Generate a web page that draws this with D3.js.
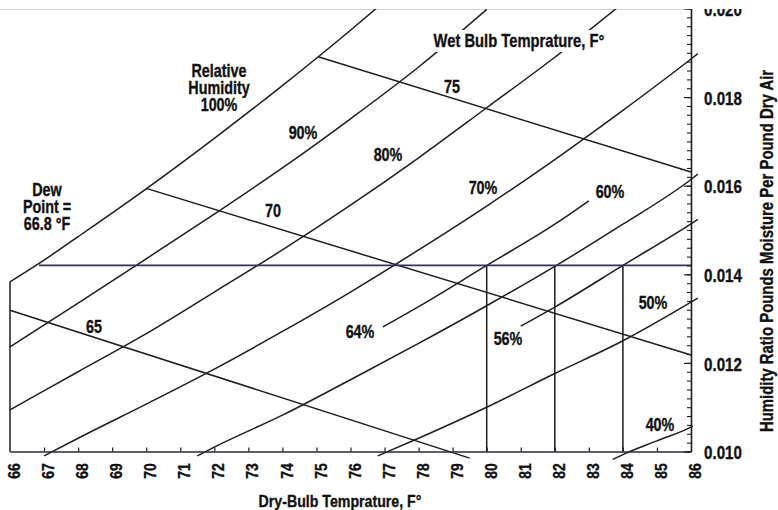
<!DOCTYPE html>
<html>
<head>
<meta charset="utf-8">
<script src="https://cdn.jsdelivr.net/npm/d3@7"></script>
<style>
  html, body { margin: 0; padding: 0; background: #fff; }
  svg { display: block; }
  text { font-family: "Liberation Sans", Arial, sans-serif; font-weight: bold; fill: #111; stroke: #111; stroke-width: 0.35px; }
</style>
</head>
<body>
<svg id="chart" width="778" height="510"></svg>
<script>
// ---------------- DATA ----------------
// axis ticks
const dryBulbTicks = [66,67,68,69,70,71,72,73,74,75,76,77,78,79,80,81,82,83,84,85,86];
const humidityTicks = [0.010, 0.012, 0.014, 0.016, 0.018, 0.020];
const humidityTickLabels = ["0.010", "0.012", "0.014", "0.016", "0.018", "0.020"];

// relative humidity curves: dry-bulb (°F) and humidity ratio (lb/lb)
const rh100T = [66, 67, 68, 70, 72, 74, 76, 77];
const rh100W = [0.01383, 0.01432, 0.01485, 0.01593, 0.01707, 0.01826, 0.01951, 0.02016];
const rh90T  = [66, 68, 70, 72, 74, 76, 78, 80];
const rh90W  = [0.01236, 0.01335, 0.01435, 0.01536, 0.01640, 0.01751, 0.01868, 0.01998];
const rh80T  = [66, 68, 70, 72, 74, 76, 78, 80, 82, 84];
const rh80W  = [0.01094, 0.01180, 0.01266, 0.01360, 0.01455, 0.01556, 0.01663, 0.01776, 0.01890, 0.02012];
const rh70T  = [67, 68, 70, 72, 74, 76, 78, 80, 82, 84, 86, 86.2];
const rh70W  = [0.00990, 0.01030, 0.01107, 0.01186, 0.01271, 0.01360, 0.01455, 0.01554, 0.01659, 0.01770, 0.01886, 0.01898];
const rh60T  = [71.5, 72, 74, 76, 78, 80, 82, 84, 86, 86.2];
const rh60W  = [0.00990, 0.01010, 0.01082, 0.01162, 0.01244, 0.01329, 0.01418, 0.01513, 0.01614, 0.01626];
const rh50T  = [76.8, 78, 80, 82, 84, 86, 86.2];
const rh50W  = [0.00990, 0.01030, 0.01100, 0.01176, 0.01250, 0.01337, 0.01346];
const rh40T  = [83.7, 84, 85, 86, 86.05];
const rh40W  = [0.00982, 0.00993, 0.01024, 0.01055, 0.01057];
// partial curves for the worked example
const rh64T  = [76.95, 78, 80, 82, 83.0];
const rh64W  = [0.01281, 0.01327, 0.01420, 0.01513, 0.01566];
const rh56T  = [81.0, 82, 84, 86, 86.2];
const rh56W  = [0.01283, 0.01326, 0.01420, 0.01514, 0.01524];

// wet-bulb lines (straight): start and end points
const wetBulbLabels = ["65", "70", "75"];
const wbStartT = [66.0, 70.0, 75.05];
const wbStartW = [0.01319, 0.01594, 0.01891];
const wbEndT   = [79.5, 86.0, 86.0];
const wbEndW   = [0.00985, 0.01218, 0.01631];

// dew point line and dry-bulb markers
const dewPointT = 66.85;
const dewPointW = 0.0142;
const markerT = [80, 82, 84];

// ---------------- CHART ----------------
const svg = d3.select("#chart");
const x = d3.scaleLinear().domain([66, 86]).range([10, 691]);
const y = d3.scaleLinear().domain([0.010, 0.020]).range([451.5, 8.5]);

svg.append("defs").append("clipPath").attr("id", "crop")
  .append("rect").attr("x", 0).attr("y", 9).attr("width", 778).attr("height", 501);

const root = svg.append("g").attr("clip-path", "url(#crop)");
const ink = "#1d1d1d";

// faint top edge
root.append("line").attr("x1", 0).attr("x2", x(86)).attr("y1", 9.5).attr("y2", 9.5)
  .attr("stroke", "#d4d4d4").attr("stroke-width", 1);

const line = d3.line().x(d => x(d[0])).y(d => y(d[1])).curve(d3.curveMonotoneX);

const curves = [
  [rh100T, rh100W], [rh90T, rh90W], [rh80T, rh80W], [rh70T, rh70W],
  [rh60T, rh60W], [rh50T, rh50W], [rh40T, rh40W], [rh64T, rh64W], [rh56T, rh56W]
];
root.append("g").selectAll("path").data(curves).join("path")
  .attr("d", c => line(d3.zip(c[0], c[1])))
  .attr("fill", "none").attr("stroke", ink).attr("stroke-width", 1.5);

// wet bulb lines
root.append("g").selectAll("line").data(wetBulbLabels).join("line")
  .attr("x1", (d, i) => x(wbStartT[i])).attr("y1", (d, i) => y(wbStartW[i]))
  .attr("x2", (d, i) => x(wbEndT[i])).attr("y2", (d, i) => y(wbEndW[i]))
  .attr("stroke", ink).attr("stroke-width", 1.5);

// marker verticals
root.append("g").selectAll("line").data(markerT).join("line")
  .attr("x1", d => x(d)).attr("x2", d => x(d))
  .attr("y1", y(dewPointW)).attr("y2", y(0.010))
  .attr("stroke", ink).attr("stroke-width", 1.5);

// dew point horizontal
root.append("line")
  .attr("x1", x(dewPointT)).attr("x2", x(86))
  .attr("y1", y(dewPointW)).attr("y2", y(dewPointW))
  .attr("stroke", "#3b2c63").attr("stroke-width", 1.7);

// left frame
root.append("line")
  .attr("x1", x(66)).attr("x2", x(66))
  .attr("y1", y(rh100W[0])).attr("y2", y(0.010) + 0.5)
  .attr("stroke", ink).attr("stroke-width", 1.5);

// bottom axis
const bottomAxis = d3.axisBottom(x).tickValues(dryBulbTicks.slice(1, -1))
  .tickSizeInner(-4).tickSizeOuter(0).tickFormat("");
const gb = root.append("g").attr("transform", `translate(0,${y(0.010)})`).call(bottomAxis);
gb.select(".domain").attr("stroke", "#2a2440").attr("stroke-width", 1.6);
gb.selectAll(".tick line").attr("stroke", ink).attr("stroke-width", 1.2);

// right axis
const minorTicks = d3.range(0, 51).map(i => 0.010 + i * 0.0002);
const rightAxis = d3.axisRight(y).tickValues(minorTicks)
  .tickSizeInner(-4).tickSizeOuter(0).tickFormat("");
const gr = root.append("g").attr("transform", `translate(${x(86)},0)`).call(rightAxis);
gr.select(".domain").attr("stroke", ink).attr("stroke-width", 1.6);
gr.selectAll(".tick line").attr("stroke", ink).attr("stroke-width", 1.1);
const rightMajor = d3.axisRight(y).tickValues(humidityTicks)
  .tickSizeInner(-7).tickSizeOuter(0).tickFormat("");
const grm = root.append("g").attr("transform", `translate(${x(86)},0)`).call(rightMajor);
grm.select(".domain").remove();
grm.selectAll(".tick line").attr("stroke", ink).attr("stroke-width", 1.2);

// tick labels
root.append("g").selectAll("text").data(dryBulbTicks).join("text")
  .attr("transform", d => `translate(${x(d) + 4},471) rotate(-90) scale(0.82,1)`)
  .attr("text-anchor", "middle").attr("dy", "0.36em")
  .style("font-size", "17px").text(d => d);

root.append("g").selectAll("text").data(humidityTicks).join("text")
  .attr("transform", d => `translate(704,${y(d) + 1}) scale(0.82,1)`)
  .attr("text-anchor", "start").attr("dy", "0.36em")
  .style("font-size", "18.5px").text((d, i) => humidityTickLabels[i]);

// axis titles
root.append("text")
  .attr("transform", "translate(340,507) scale(0.82,1)")
  .attr("text-anchor", "middle").style("font-size", "17.3px")
  .text("Dry-Bulb Temprature, F°");
root.append("text")
  .attr("transform", "translate(766,251) rotate(-90) scale(0.82,1)")
  .attr("text-anchor", "middle").attr("dy", "0.36em").style("font-size", "18.2px")
  .text("Humidity Ratio Pounds Moisture Per Pound Dry Air");

// annotations
function note(txt, px, py, size) {
  root.append("text").attr("transform", `translate(${px},${py}) scale(0.82,1)`)
    .attr("text-anchor", "middle").style("font-size", size + "px").text(txt);
}
// wet bulb title with white backing
root.append("rect").attr("x", 430).attr("y", 30).attr("width", 180).attr("height", 22).attr("fill", "#fff");
note("Wet Bulb Temprature, F°", 519, 46.5, 18);

note("Relative", 219, 77, 17.5);
note("Humidity", 219, 94, 17.5);
note("100%", 219, 111, 17.5);
note("Dew", 47, 196, 17.5);
note("Point =", 47, 213, 17.5);
note("66.8 °F", 47, 230, 17.5);

const rhNoteText = ["90%", "80%", "70%", "60%", "64%", "56%", "50%", "40%"];
const rhNoteX = [303, 388, 483, 610, 360, 508, 653, 660];
const rhNoteY = [139, 161, 194, 198, 338, 345, 309, 431];
rhNoteText.forEach((t, i) => note(t, rhNoteX[i], rhNoteY[i], 17.5));

const wbNoteX = [94, 273, 452];
const wbNoteY = [333, 217, 93];
wetBulbLabels.forEach((t, i) => note(t, wbNoteX[i], wbNoteY[i], 17.5));
</script>
</body>
</html>
